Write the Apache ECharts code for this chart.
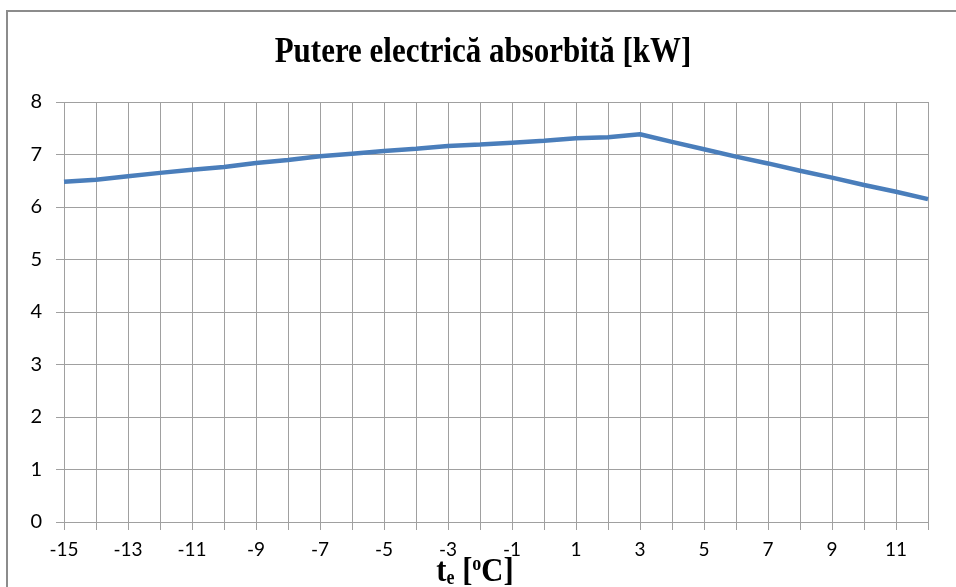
<!DOCTYPE html>
<html><head><meta charset="utf-8">
<script src="https://cdn.jsdelivr.net/npm/echarts@6/dist/echarts.min.js"></script>
<style>html,body{margin:0;padding:0;background:#fff}#c{width:956px;height:587px}</style>
</head><body><div id="c"></div>
<script>
const categories = ['-15','-14','-13','-12','-11','-10','-9','-8','-7','-6','-5','-4','-3','-2','-1','0','1','2','3','4','5','6','7','8','9','10','11','12'];
const power = [6.48,6.52,6.585,6.65,6.71,6.76,6.84,6.895,6.965,7.015,7.065,7.11,7.16,7.19,7.225,7.26,7.31,7.33,7.385,7.24,7.10,6.96,6.83,6.69,6.56,6.42,6.29,6.15];
const yTicks = [0,1,2,3,4,5,6,7,8];
const titleText = 'Putere electrică absorbită [kW]';

const chart = echarts.init(document.getElementById('c'));
chart.setOption({
  backgroundColor: '#fff',
  animation: false,
  graphic: [{
    type: 'rect', shape: { x: 7, y: 11, width: 1000, height: 700 },
    style: { fill: 'none', stroke: '#8c8c8c', lineWidth: 2 }, silent: true, z: 0
  }, {
    type: 'text', x: 483, y: 35, scaleX: 0.885, silent: true,
    style: {
      text: titleText, align: 'center', verticalAlign: 'top',
      font: 'bold 35px "Liberation Serif"', fill: '#000'
    }
  }, {
    type: 'text', x: 475, y: 572, silent: true, scaleX: 0.9,
    style: {
      text: '{t|t}{e|e}{t| [}{o|o}{t|C]}', align: 'center', verticalAlign: 'middle',
      rich: {
        t: { fontFamily: 'Liberation Serif', fontWeight: 'bold', fontSize: 34, color: '#000', lineHeight: 34 },
        e: { fontFamily: 'Liberation Serif', fontWeight: 'bold', fontSize: 20, color: '#000', verticalAlign: 'bottom', lineHeight: 20 },
        o: { fontFamily: 'Liberation Serif', fontWeight: 'bold', fontSize: 20, color: '#000', verticalAlign: 'top', lineHeight: 20 }
      }
    }
  }],
  grid: { left: 64, right: 28, top: 102, bottom: 65, outerBoundsMode: 'none', containLabel: false },
  xAxis: {
    type: 'category', data: categories, boundaryGap: false,
    axisLine: { show: true, lineStyle: { color: '#a0a0a0', width: 1 } },
    axisTick: { show: true, interval: 0, length: 8, lineStyle: { color: '#a0a0a0' } },
    axisLabel: { interval: 1, margin: 18, fontFamily: 'Lato', fontSize: 19, color: '#000' },
    splitLine: { show: true, interval: 0, lineStyle: { color: '#a0a0a0', width: 1 } }
  },
  yAxis: {
    type: 'value', min: yTicks[0], max: yTicks[yTicks.length-1], interval: 1,
    axisLine: { show: false },
    axisTick: { show: true, length: 8, lineStyle: { color: '#a0a0a0' } },
    axisLabel: { margin: 22, fontFamily: 'Lato', fontSize: 20, color: '#000' },
    splitLine: { show: true, lineStyle: { color: '#a0a0a0', width: 1 } }
  },
  series: [{
    type: 'line', data: power, showSymbol: false,
    lineStyle: { color: '#4a7ebb', width: 4.5 }
  }]
});
</script></body></html>
